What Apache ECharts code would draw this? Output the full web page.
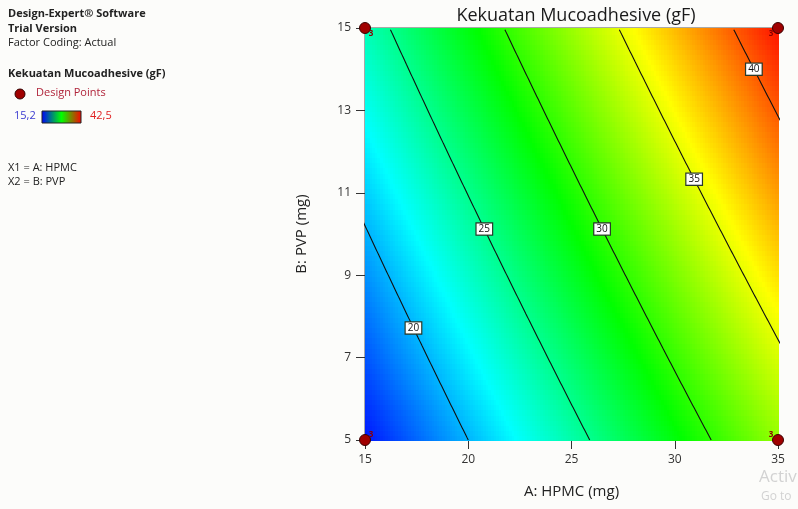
<!DOCTYPE html>
<html>
<head>
<meta charset="utf-8">
<script src="https://cdn.jsdelivr.net/npm/echarts@6/dist/echarts.min.js"></script>
<style>
  html, body { margin: 0; padding: 0; background: #fcfcfa; }
  #chart { width: 798px; height: 509px; }
</style>
</head>
<body>
<div id="chart"></div>
<script>
// Factor ranges (actual units)
const hpmcRange = [15, 35];
const pvpRange = [5, 15];
const hpmcTicks = [15, 20, 25, 30, 35];
const pvpTicks = [5, 7, 9, 11, 13, 15];

// Response model in actual factors: intercept, A, B, AB
const modelCoef = [-0.691, 0.82375, 0.73825, 0.00525];

// Contour levels and the PVP value where each level's label sits
const contourLevels = [20, 25, 30, 35, 40];
const contourLabelPVP = [7.72, 10.12, 10.12, 11.33, 14.0];

// Design points (corners) with replicate counts
const designHPMC = [15, 35, 15, 35];
const designPVP = [5, 5, 15, 15];
const designReps = [3, 3, 3, 3];

// Colour scale limits
const colorMin = 15.2;
const colorMax = 42.5;

const FONT = '"Open Sans", "Noto Sans", sans-serif';

function predict(a, b) {
  return modelCoef[0] + modelCoef[1] * a + modelCoef[2] * b + modelCoef[3] * a * b;
}
function hpmcAt(level, b) {
  return (level - modelCoef[0] - modelCoef[2] * b) / (modelCoef[1] + modelCoef[3] * b);
}

// Surface cells
const nA = 160, nB = 80;
const dA = (hpmcRange[1] - hpmcRange[0]) / nA;
const dB = (pvpRange[1] - pvpRange[0]) / nB;
const surface = [];
for (let i = 0; i < nA; i++) {
  for (let j = 0; j < nB; j++) {
    const a = hpmcRange[0] + (i + 0.5) * dA;
    const b = pvpRange[0] + (j + 0.5) * dB;
    surface.push([a, b, predict(a, b)]);
  }
}

// Contour lines
const contourSeries = contourLevels.map(function (lv) {
  const pts = [];
  for (let b = pvpRange[0]; b <= pvpRange[1] + 1e-9; b += 0.02) {
    pts.push([hpmcAt(lv, b), b]);
  }
  return {
    type: 'line', data: pts, showSymbol: false, silent: true,
    lineStyle: { color: '#111', width: 1.1 }, clip: true, z: 3
  };
});

const labelData = contourLevels.map(function (lv, k) {
  const b = contourLabelPVP[k];
  return { value: [hpmcAt(lv, b), b], name: String(lv) };
});

const designData = designHPMC.map(function (a, k) {
  return [a, designPVP[k]];
});

// Replicate counts sit just inside the plot corner next to each point
const repData = designHPMC.map(function (a, k) {
  const b = designPVP[k];
  const left = a === hpmcRange[0];
  const bottom = b === pvpRange[0];
  return {
    value: [a, b],
    label: {
      show: true, position: 'inside', formatter: String(designReps[k]),
      offset: [left ? 6 : -7, bottom ? -5 : 6],
      color: '#8b0000', fontSize: 8, fontWeight: 'bold', fontFamily: FONT
    }
  };
});

const chart = echarts.init(document.getElementById('chart'), null, { renderer: 'canvas' });

const leftTexts = [
  { t: 'Design-Expert\u00AE Software', y: 15, bold: true },
  { t: 'Trial Version', y: 30, bold: true },
  { t: 'Factor Coding: Actual', y: 44, bold: false },
  { t: 'Kekuatan Mucoadhesive (gF)', y: 75, bold: true },
  { t: 'X1 = A: HPMC', y: 169, bold: false },
  { t: 'X2 = B: PVP', y: 183, bold: false }
];

const graphics = leftTexts.map(function (o) {
  return {
    type: 'text', left: 8, top: o.y - 7,
    style: { text: o.t, fill: '#222', font: (o.bold ? 'bold ' : '') + '11px ' + FONT }
  };
});
graphics.push(
  { type: 'circle', shape: { cx: 20, cy: 94, r: 5 }, style: { fill: '#a00000', stroke: '#300', lineWidth: 1 } },
  { type: 'text', left: 36, top: 87, style: { text: 'Design Points', fill: '#b0243a', font: '11px ' + FONT } },
  { type: 'text', left: 14, top: 110, style: { text: '15,2', fill: '#3a3ad0', font: '11px ' + FONT } },
  {
    type: 'rect', shape: { x: 42, y: 111, width: 39, height: 12 },
    style: {
      stroke: '#222', lineWidth: 1,
      fill: new echarts.graphic.LinearGradient(0, 0, 1, 0, [
        { offset: 0, color: '#0000ff' }, { offset: 0.5, color: '#00ff00' }, { offset: 1, color: '#ff0000' }
      ])
    }
  },
  { type: 'text', left: 90, top: 110, style: { text: '42,5', fill: '#e02020', font: '11px ' + FONT } },
  { type: 'text', left: 759, top: 469, style: { text: 'Activ', fill: '#d2d2d2', font: '17px ' + FONT } },
  { type: 'text', left: 761, top: 491, style: { text: 'Go to', fill: '#d2d2d2', font: '12px ' + FONT } }
);

chart.setOption({
  backgroundColor: '#fcfcfa',
  animation: false,
  title: {
    text: 'Kekuatan Mucoadhesive (gF)', left: 571, top: 2, textAlign: 'center',
    textStyle: { fontFamily: FONT, fontSize: 18, fontWeight: 'normal', color: '#1a1a1a' }
  },
  grid: {
    left: 365, right: 20, top: 28, bottom: 69,
    show: true, borderColor: '#555', borderWidth: 1, backgroundColor: 'transparent'
  },
  xAxis: {
    type: 'value', min: hpmcRange[0], max: hpmcRange[1], interval: 5,
    name: 'A: HPMC (mg)', nameLocation: 'middle', nameGap: 44,
    nameTextStyle: { fontFamily: FONT, fontSize: 15, color: '#222' },
    axisLine: { show: true, onZero: false, lineStyle: { color: '#222' } },
    axisTick: { show: true, length: 9, lineStyle: { color: '#333' } },
    axisLabel: { margin: 14, fontFamily: FONT, fontSize: 12, color: '#333',
      formatter: function (v) { return hpmcTicks.indexOf(v) >= 0 ? String(v) : ''; } },
    splitLine: { show: false }
  },
  yAxis: {
    type: 'value', min: pvpRange[0], max: pvpRange[1], interval: 2,
    name: 'B: PVP (mg)', nameLocation: 'middle', nameGap: 56,
    nameTextStyle: { fontFamily: FONT, fontSize: 15, color: '#222' },
    axisLine: { show: true, onZero: false, lineStyle: { color: '#222' } },
    axisTick: { show: true, length: 9, lineStyle: { color: '#333' } },
    axisLabel: { margin: 14, fontFamily: FONT, fontSize: 12, color: '#333',
      formatter: function (v) { return pvpTicks.indexOf(v) >= 0 ? String(v) : ''; } },
    splitLine: { show: false }
  },
  visualMap: {
    show: false, type: 'continuous', seriesIndex: 0, dimension: 2,
    min: colorMin, max: colorMax,
    inRange: { color: ['#0000ff', '#00ffff', '#00ff00', '#ffff00', '#ff0000'] }
  },
  graphic: graphics,
  series: [
    {
      type: 'custom', data: surface, silent: true, z: 1,
      encode: { x: 0, y: 1 },
      renderItem: function (params, api) {
        const a = api.value(0), b = api.value(1);
        const p0 = api.coord([a - dA / 2, b + dB / 2]);
        const p1 = api.coord([a + dA / 2, b - dB / 2]);
        return {
          type: 'rect',
          shape: { x: Math.floor(p0[0]), y: Math.floor(p0[1]),
                   width: Math.ceil(p1[0] - p0[0]) + 1, height: Math.ceil(p1[1] - p0[1]) + 1 },
          style: { fill: api.visual('color') }
        };
      },
      clip: true
    }
  ].concat(contourSeries).concat([
    {
      type: 'scatter', data: labelData, symbolSize: 0, silent: true, z: 5,
      itemStyle: { opacity: 1 },
      label: {
        show: true, position: 'inside', formatter: '{b}',
        backgroundColor: '#ffffff', borderColor: '#2a3a2a', borderWidth: 1.2,
        padding: [1, 2, 0, 2], fontSize: 10, color: '#111', fontFamily: FONT
      }
    },
    {
      type: 'scatter', data: repData, symbolSize: 0, silent: true, z: 7, clip: false,
      itemStyle: { opacity: 1 }
    },
    {
      type: 'scatter', data: designData, symbol: 'circle', symbolSize: 11, silent: true, z: 6,
      itemStyle: { color: '#a00000', borderColor: '#3a0000', borderWidth: 1, opacity: 1 },
      clip: false
    }
  ])
});
</script>
</body>
</html>
